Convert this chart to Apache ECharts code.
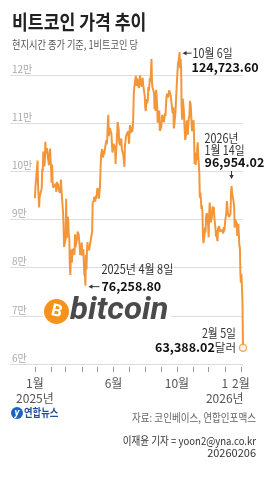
<!DOCTYPE html>
<html>
<head>
<meta charset="utf-8">
<script src="https://cdn.jsdelivr.net/npm/echarts@6/dist/echarts.min.js"></script>
<style>
html, body { margin: 0; padding: 0; background: #fff; }
#chart { width: 268px; height: 500px; }
</style>
</head>
<body>
<div id="chart"></div>
<script>
// 일별 종가 (단위: 천 달러), 2025-01-01 ~ 2026-02-05
var jan25 = [94.4, 96.9, 98.1, 98.2, 98.3, 102.2, 96.9, 95.0, 92.5, 94.7, 94.5, 94.5, 94.5, 96.5, 100.5, 99.9, 104.1, 104.4, 101.0, 102.0, 106.1, 103.6, 103.9, 104.8, 104.7, 102.6, 102.0, 101.3, 103.7, 104.7, 102.4];
var feb25 = [100.6, 97.6, 101.4, 97.8, 96.6, 96.5, 96.5, 96.5, 96.5, 97.4, 95.7, 97.8, 96.6, 97.5, 97.6, 96.1, 95.7, 95.5, 96.6, 98.3, 96.1, 96.5, 96.3, 91.5, 88.7, 84.3, 84.7, 84.4];
var mar25 = [86.0, 94.3, 86.1, 87.2, 90.6, 89.9, 86.7, 86.1, 80.7, 78.5, 82.9, 83.7, 81.0, 83.9, 84.3, 82.6, 84.0, 82.7, 86.9, 84.2, 84.1, 83.8, 86.1, 87.5, 87.4, 86.9, 87.2, 84.4, 82.6, 82.3, 82.5];
var apr25 = [85.2, 82.5, 83.1, 83.8, 83.5, 78.4, 79.1, 76.2588, 82.6, 79.6, 83.4, 85.3, 83.7, 84.5, 83.6, 84.0, 84.9, 84.5, 85.1, 85.1, 87.5, 93.4, 93.7, 93.9, 94.7, 94.6, 93.7, 94.9, 94.3, 94.2];
var may25 = [96.5, 96.9, 95.9, 94.3, 94.7, 96.8, 97.0, 103.2, 102.9, 104.6, 104.1, 102.8, 104.1, 103.5, 103.7, 103.5, 103.2, 106.4, 105.6, 106.8, 109.6, 111.7, 107.3, 108.0, 109.0, 109.4, 108.9, 107.8, 105.6, 103.9, 104.6];
var jun25 = [105.7, 105.8, 105.4, 104.7, 101.5, 104.3, 105.6, 105.7, 110.2, 110.2, 108.7, 105.9, 106.0, 105.4, 105.6, 106.8, 104.6, 104.9, 104.6, 103.3, 102.1, 100.9, 105.4, 106.1, 107.3, 106.9, 107.1, 107.3, 108.3, 107.1];
var jul25 = [105.7, 108.8, 109.6, 107.9, 108.2, 109.2, 108.2, 108.9, 111.3, 115.9, 117.5, 117.4, 119.1, 119.8, 117.7, 118.7, 119.3, 117.9, 117.9, 117.3, 117.4, 119.9, 118.7, 118.3, 117.6, 117.9, 119.4, 118.0, 117.9, 117.8, 115.7];
var aug25 = [113.3, 112.5, 114.2, 115.0, 114.1, 115.0, 117.5, 116.7, 116.5, 119.3, 118.7, 120.2, 123.3, 118.4, 117.4, 117.5, 117.5, 116.3, 112.9, 114.3, 112.5, 116.9, 115.4, 113.5, 110.1, 111.8, 111.3, 112.6, 108.4, 108.8, 108.2];
var sep25 = [109.2, 111.2, 111.7, 110.7, 110.7, 110.2, 111.1, 112.0, 111.5, 113.9, 115.5, 116.1, 115.9, 115.3, 115.3, 116.8, 116.4, 117.1, 115.7, 115.7, 115.3, 112.7, 112.0, 113.3, 108.9, 109.7, 109.7, 112.1, 114.3, 114.1];
var oct25 = [118.6, 120.6, 122.3, 122.4, 123.5, 124.7236, 121.4, 123.3, 121.7, 113.2, 110.7, 115.1, 115.3, 113.0, 110.8, 108.2, 106.5, 107.2, 108.7, 110.6, 108.5, 107.6, 110.1, 111.0, 111.6, 114.6, 114.1, 112.9, 110.1, 108.3, 109.6];
var nov25 = [110.1, 110.6, 106.6, 101.5, 103.9, 101.3, 103.3, 102.3, 104.7, 106.0, 103.0, 101.6, 99.7, 94.5, 95.6, 94.2, 92.2, 92.9, 91.5, 86.6, 85.1, 84.7, 86.8, 88.3, 87.3, 90.5, 91.3, 90.9, 90.8, 90.4];
var dec25 = [86.3, 91.3, 93.5, 92.1, 89.4, 89.3, 90.4, 90.6, 92.7, 92.0, 92.5, 90.3, 90.3, 88.2, 86.4, 87.8, 86.2, 85.5, 88.1, 88.3, 88.6, 88.5, 87.5, 87.6, 87.2, 87.3, 87.8, 87.8, 87.1, 88.4, 87.5];
var jan26 = [88.7, 89.9, 90.6, 91.4, 93.8, 93.7, 91.3, 91.0, 90.5, 90.5, 90.8, 91.2, 95.4, 96.95402, 95.5, 95.5, 95.1, 93.6, 92.6, 88.3, 89.9, 89.5, 89.5, 89.2, 86.6, 88.3, 89.1, 89.2, 84.6, 84.1, 78.6];
var feb26 = [76.9, 78.7, 75.8, 73.0, 63.38802];

// 월 시작일 (2025-01-01 기준 일수)
var monthTicks = [0, 31, 59, 90, 120, 151, 181, 212, 243, 273, 304, 334, 365, 396];
var labelDays = [0, 151, 273, 365, 396];
var labelTexts = ['1월', '6월', '10월', '1', '2월'];
var yearDays = [0, 365];
var yearTexts = ['2025년', '2026년'];
var yTicks = [60000, 70000, 80000, 90000, 100000, 110000, 120000];

var lineColor = '#F3963A';
var font = '"Noto Sans CJK KR", "Noto Sans", sans-serif';

var prices = [];
[jan25, feb25, mar25, apr25, may25, jun25, jul25, aug25, sep25, oct25, nov25, dec25, jan26, feb26].forEach(function (m) {
    m.forEach(function (v) {
        prices.push([prices.length, Math.round(v * 100000) / 100]);
    });
});

var myChart = echarts.init(document.getElementById('chart'));

// 텍스트 그래픽
function txt(x, y, text, opt) {
    opt = opt || {};
    return {
        type: 'text', x: x, y: y, scaleX: opt.sx || 1, z: 10,
        style: {
            text: text, x: 0, y: 0,
            fill: opt.color || '#333',
            fontSize: opt.size || 12,
            fontWeight: opt.bold ? 'bold' : 'normal',
            fontFamily: opt.family || font,
            fontStyle: opt.italic ? 'italic' : 'normal',
            align: opt.align || 'left',
            verticalAlign: 'middle',
            rich: opt.rich
        }
    };
}
// 왼쪽 화살표
function leftArrow(x1, x2, y) {
    return [
        { type: 'line', z: 10, shape: { x1: x1 + 2, y1: y, x2: x2, y2: y }, style: { stroke: '#333', lineWidth: 1 } },
        { type: 'polygon', z: 10, shape: { points: [[x1, y], [x1 + 4, y - 2.2], [x1 + 4, y + 2.2]] }, style: { fill: '#333' } }
    ];
}
// 아래 화살표
function downArrow(x, y1, y2) {
    return [
        { type: 'line', z: 10, shape: { x1: x, y1: y1, x2: x, y2: y2 - 2 }, style: { stroke: '#333', lineWidth: 1 } },
        { type: 'polygon', z: 10, shape: { points: [[x, y2], [x - 2.2, y2 - 4], [x + 2.2, y2 - 4]] }, style: { fill: '#333' } }
    ];
}

var option = {
    animation: false,
    grid: { left: 10, right: 25, top: 46, bottom: 136 },
    xAxis: {
        type: 'value', min: -48, max: 400, offset: 3,
        splitLine: { show: false },
        axisLine: { show: false },
        axisTick: { show: true, customValues: monthTicks, length: 5, lineStyle: { color: '#999' } },
        axisLabel: {
            customValues: labelDays, hideOverlap: false,
            formatter: function (v) { return labelTexts[labelDays.indexOf(v)] || ''; },
            margin: 9, color: '#555', fontSize: 12, lineHeight: 15, fontFamily: font,
            verticalAlign: 'top'
        }
    },
    yAxis: {
        type: 'value', min: 60000, max: 126000, interval: 10000,
        axisLine: { show: false }, axisTick: { show: false },
        splitLine: { showMaxLine: false, lineStyle: { color: '#ddd', width: 1 } },
        axisLabel: {
            inside: true, margin: 2, verticalAlign: 'bottom', showMaxLabel: false,
            color: '#aaa', fontSize: 10, fontFamily: font, padding: [0, 0, 1, 0],
            formatter: function (v) { return yTicks.indexOf(v) >= 0 ? (v / 10000) + '만' : ''; }
        }
    },
    series: [
        {
            type: 'line', data: prices, showSymbol: false, z: 3,
            lineStyle: { color: lineColor, width: 2 }
        },
        {
            type: 'scatter', data: [prices[prices.length - 1]], symbolSize: 7, z: 4,
            itemStyle: { color: '#fff', borderColor: lineColor, borderWidth: 1.5 }
        }
    ]
};
myChart.setOption(option);

// 주석 위치 (데이터 좌표 기준)
function px(i) { return myChart.convertToPixel({ gridIndex: 0 }, prices[i]); }
var pOct = px(278), pJan = px(378), pApr = px(97), pEnd = px(400);
var axisY = myChart.convertToPixel({ gridIndex: 0 }, [0, 60000])[1];

var g = [
    // 제목
    txt(12, 22, '비트코인 가격 추이', { size: 20, bold: true, color: '#222', sx: 0.86 }),
    txt(12, 45, '현지시간 종가 기준, 1비트코인 당', { size: 11.5, color: '#555', sx: 0.8 }),
    // bitcoin 로고
    { type: 'rect', z: 5, shape: { x: 43, y: 297, width: 128, height: 33 }, style: { fill: '#fff' } },
    { type: 'circle', z: 6, shape: { cx: 56.5, cy: 311.5, r: 12.5 }, style: { fill: '#F7931A' } },
    { type: 'text', z: 7, x: 56.5, y: 312, rotation: -0.24, style: { text: 'B', fill: '#fff', fontSize: 17, fontWeight: 'bold', fontFamily: 'Roboto', align: 'center', verticalAlign: 'middle' } },
    txt(70, 311, 'bitcoin', { size: 32, bold: true, italic: true, family: 'Roboto', color: '#4a4a4a', sx: 1.03 }),
    // 10월 6일
    txt(pOct[0] + 13, pOct[1] + 1, '10월 6일', { size: 12.5, sx: 0.86 }),
    txt(pOct[0] + 12, pOct[1] + 15, '124,723.60', { size: 12.5, bold: true, color: '#111' }),
    // 2026년 1월 14일
    txt(pJan[0] - 27, pJan[1] - 48, '2026년', { size: 12.5, sx: 0.86 }),
    txt(pJan[0] - 27, pJan[1] - 36, '1월 14일', { size: 12.5, sx: 0.86 }),
    txt(pJan[0] - 27, pJan[1] - 24, '96,954.02', { size: 12.5, bold: true, color: '#111' }),
    // 2025년 4월 8일
    txt(pApr[0] + 16, pApr[1] - 16, '2025년 4월 8일', { size: 12.5, sx: 0.88 }),
    txt(pApr[0] + 16, pApr[1] + 1, '76,258.80', { size: 12.5, bold: true, color: '#111' }),
    // 2월 5일
    txt(pEnd[0] - 7, pEnd[1] - 14, '2월 5일', { size: 12.5, sx: 0.86, align: 'right' }),
    txt(pEnd[0] - 7, pEnd[1], '{b|63,388.02}{n|달러}', {
        size: 12.5, align: 'right',
        rich: {
            b: { fontSize: 12.5, fontWeight: 'bold', fill: '#111', fontFamily: font },
            n: { fontSize: 11.5, fill: '#333', fontFamily: font }
        }
    }),
    // 연합뉴스 로고
    { type: 'circle', z: 6, shape: { cx: 17, cy: 413, r: 6 }, style: { fill: '#1d62c0' } },
    txt(17, 413, 'y', { size: 10, bold: true, italic: true, color: '#fff', align: 'center', family: 'Roboto' }),
    txt(24, 413, '연합뉴스', { size: 11, bold: true, color: '#1d4f9e', sx: 0.85 }),
    // 출처
    txt(256, 418, '자료: 코인베이스, 연합인포맥스', { size: 11, color: '#666', sx: 0.87, align: 'right' }),
    txt(256, 441, '이재윤 기자 = yoon2@yna.co.kr', { size: 11, color: '#333', sx: 0.87, align: 'right' }),
    txt(256, 453, '20260206', { size: 11, color: '#333', align: 'right' })
];
// 연도 표시
yearDays.forEach(function (d, i) {
    var x = myChart.convertToPixel({ gridIndex: 0 }, [d, 60000])[0];
    g.push(txt(x, axisY + 34, yearTexts[i], { size: 12, color: '#555', align: 'center' }));
});
g = g.concat(leftArrow(pOct[0] + 3, pOct[0] + 12, pOct[1] + 1));
g = g.concat(downArrow(pJan[0], pJan[1] - 15, pJan[1] - 7));
g = g.concat(leftArrow(pApr[0] + 3, pApr[0] + 14, pApr[1] + 1));

myChart.setOption({ graphic: g });
</script>
</body>
</html>
